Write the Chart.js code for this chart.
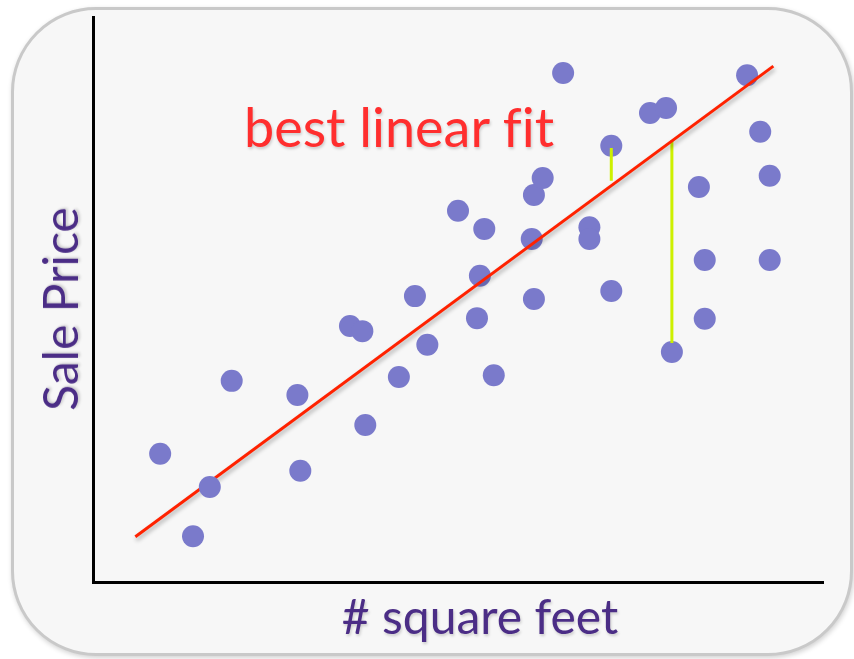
<!DOCTYPE html>
<html lang="en">
<head>
  <meta charset="UTF-8">
  <title>best linear fit</title>
  <style>
    body { margin: 0; background: #fff; font-family: Lato, sans-serif; }
    #wrap { position: relative; width: 854px; height: 659px; overflow: hidden; }
    #card {
      position: absolute; left: 11px; top: 7px;
      width: 836px; height: 643px;
      border: 3px solid #c9c9c9; border-radius: 85px;
      background: #f7f7f7;
      box-shadow: 1px 2px 5px rgba(0,0,0,0.18);
    }
    #chart { position: absolute; left: 0; top: 0; }
    .lbl { position: absolute; line-height: 1; white-space: nowrap;
           font-variant-ligatures: none;
           text-shadow: 1px 2px 3px rgba(0,0,0,0.18); }
    #ytitle { left: 60px; top: 309px; font-size: 48px; color: #4b2d86;
              transform: translate(-50%,-50%) rotate(-90deg); }
    #xtitle { left: 480px; top: 592px; font-size: 48px; color: #4b2d86;
              transform: translateX(-50%); }
    #fitlbl { left: 399px; top: 100px; font-size: 54px; color: #ff2e2e;
              transform: translateX(-50%); }
  </style>
</head>
<body>
<div id="wrap">
  <div id="card"></div>
  <canvas id="chart" width="854" height="659"></canvas>
  <div class="lbl" id="ytitle">Sale Price</div>
  <div class="lbl" id="xtitle"># square feet</div>
  <div class="lbl" id="fitlbl">best linear fit</div>
</div>

<script src="https://cdn.jsdelivr.net/npm/chart.js"></script>
<script>
// house sales: size vs price (arbitrary units 0..100)
const sqft  = [9.2, 13.7, 19.0, 28.0, 28.4, 35.2, 36.9, 37.3, 41.9, 44.1, 45.8, 50.0,
               52.6, 53.0, 53.6, 54.9, 60.1, 60.4, 60.4, 61.6, 64.4, 68.0, 68.0, 71.0,
               71.0, 76.3, 78.5, 79.3, 83.0, 83.8, 83.8, 89.6, 91.4, 92.7, 92.7];
const price = [22.7, 8.1, 35.6, 33.1, 19.7, 45.3, 44.4, 27.8, 36.3, 50.6, 42.0, 65.7,
               46.7, 54.2, 62.5, 36.6, 60.7, 68.5, 50.1, 71.5, 90.1, 62.8, 60.7, 77.2,
               51.5, 83.0, 83.9, 40.7, 69.9, 57.0, 46.6, 89.7, 79.7, 71.9, 57.0];
// this one sits on top of the fit line
const frontSqft  = [16.0];
const frontPrice = [16.8];

const fitX = [5.8, 93.2];
const fitY = [8.0, 91.3];

// residual segments (x, y from, y to)
const res1X = [71.0, 71.0], res1Y = [76.8, 71.0];
const res2X = [79.3, 79.3], res2Y = [78.2, 42.3];

const POINT = '#7a7acb';
const toXY = (xs, ys) => xs.map((x, i) => ({ x: x, y: ys[i] }));

// soft drop shadow for the lines
const shadowPlugin = {
  id: 'shadow',
  beforeDatasetDraw(chart, args) {
    const ds = chart.data.datasets[args.index];
    if (!ds.shadow) return;
    const c = chart.ctx;
    c.shadowColor = 'rgba(0,0,0,0.3)';
    c.shadowBlur = 4;
    c.shadowOffsetX = 1;
    c.shadowOffsetY = 3;
  },
  afterDatasetDraw(chart, args) {
    const c = chart.ctx;
    c.shadowColor = 'rgba(0,0,0,0)';
    c.shadowBlur = 0;
    c.shadowOffsetX = 0;
    c.shadowOffsetY = 0;
  }
};

const axis = (min, max) => ({
  type: 'linear', min: min, max: max,
  grid: { display: false, drawTicks: false },
  ticks: { display: false },
  border: { display: true, color: '#000', width: 3 }
});

new Chart(document.getElementById('chart'), {
  type: 'scatter',
  data: {
    datasets: [
      { data: toXY(frontSqft, frontPrice), order: 0, pointRadius: 11,
        backgroundColor: POINT, borderWidth: 0 },
      { data: toXY(fitX, fitY), order: 1, showLine: true, pointRadius: 0,
        borderColor: '#ff2200', borderWidth: 3, shadow: true },
      { data: toXY(res1X, res1Y), order: 2, showLine: true, pointRadius: 0,
        borderColor: '#cdf000', borderWidth: 3 },
      { data: toXY(res2X, res2Y), order: 2, showLine: true, pointRadius: 0,
        borderColor: '#cdf000', borderWidth: 3 },
      { data: toXY(sqft, price), order: 3, pointRadius: 11,
        backgroundColor: POINT, borderWidth: 0 }
    ]
  },
  options: {
    responsive: false,
    animation: false,
    clip: false,
    layout: { padding: { left: 93, top: 17, right: 31, bottom: 77 } },
    plugins: { legend: { display: false }, tooltip: { enabled: false } },
    events: [],
    scales: { x: axis(0, 100), y: axis(0, 100) }
  },
  plugins: [shadowPlugin]
});
</script>
</body>
</html>
